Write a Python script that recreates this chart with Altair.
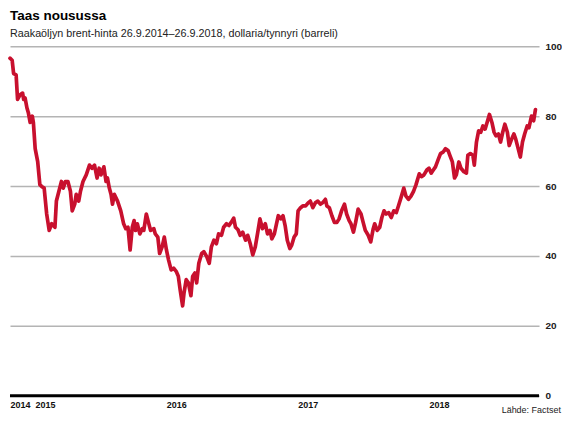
import altair as alt
import pandas as pd

# Days since 26.9.2014 and Brent price (USD/barrel)
paivat = [0, 6, 10, 17, 21, 28, 35, 38, 42, 47, 51, 56, 62, 65, 70, 77, 83, 88, 95, 102,
          109, 116, 125, 129, 136, 143, 148, 154, 161, 168, 173, 180, 184, 191, 196, 203, 212, 221, 228, 235,
          242, 248, 253, 261, 267, 271, 276, 281, 285, 290, 299, 308, 316, 322, 328, 334, 340, 345, 349, 354,
          361, 368, 372, 379, 386, 391, 400, 404, 411, 416, 423, 429, 435, 441, 448, 455, 462, 468, 473, 480,
          484, 490, 496, 503, 508, 514, 519, 525, 533, 539, 547, 554, 560, 567, 574, 580, 588, 594, 602, 609,
          615, 622, 627, 634, 640, 647, 655, 661, 668, 675, 682, 689, 695, 702, 710, 716, 723, 728, 735, 741,
          746, 753, 759, 765, 771, 778, 783, 790, 796, 801, 808, 814, 822, 829, 835, 842, 849, 856, 863, 869,
          877, 881, 888, 895, 902, 909, 915, 922, 930, 936, 943, 948, 955, 961, 968, 976, 982, 988, 996, 1003,
          1010, 1014, 1021, 1028, 1034, 1040, 1046, 1053, 1060, 1067, 1074, 1080, 1087, 1095, 1101, 1108, 1115, 1122, 1129, 1138,
          1144, 1151, 1159, 1165, 1171, 1177, 1183, 1190, 1197, 1205, 1211, 1218, 1223, 1230, 1236, 1241, 1248, 1254, 1262, 1269,
          1273, 1280, 1287, 1291, 1297, 1303, 1309, 1315, 1321, 1328, 1333, 1340, 1346, 1351, 1358, 1364, 1370, 1376, 1383, 1388,
          1395, 1401, 1406, 1413, 1419, 1425, 1431, 1438, 1443, 1450, 1456, 1461]
hinnat = [96.6, 96.0, 92.2, 91.8, 84.8, 86.1, 86.6, 84.8, 85.2, 82.4, 81.0, 78.2, 80.0, 78.2, 70.7, 67.0, 60.4, 59.9, 59.4, 52.0,
          47.3, 49.2, 48.2, 55.7, 58.5, 61.3, 59.4, 61.3, 61.3, 58.5, 52.9, 54.8, 57.6, 55.7, 58.5, 61.3, 63.2, 66.0, 65.1, 66.0,
          62.3, 65.1, 63.2, 65.5, 61.3, 62.3, 59.5, 57.6, 54.8, 57.6, 55.7, 52.9, 49.2, 47.8, 48.2, 41.7, 48.2, 50.1, 47.3, 49.2,
          46.3, 47.8, 47.3, 52.0, 49.2, 47.3, 47.8, 46.3, 45.4, 40.7, 42.6, 45.4, 41.7, 38.8, 36.0, 36.5, 35.6, 34.2, 30.4, 25.7,
          29.5, 33.2, 32.3, 28.6, 34.2, 35.1, 32.3, 37.9, 40.7, 41.2, 39.8, 37.9, 42.6, 44.5, 43.5, 46.3, 45.9, 48.2, 49.2, 48.7,
          49.6, 50.8, 48.2, 47.5, 45.9, 46.8, 44.5, 45.9, 43.5, 40.3, 42.6, 46.8, 50.6, 47.8, 49.2, 46.3, 47.3, 44.9, 46.3, 49.2,
          51.5, 50.6, 51.5, 48.7, 44.5, 42.1, 43.0, 45.4, 46.3, 52.9, 53.8, 54.3, 54.3, 55.2, 55.7, 53.8, 55.2, 55.7, 54.8, 55.2,
          56.2, 54.3, 53.8, 51.5, 49.6, 49.6, 50.6, 52.9, 54.8, 52.0, 50.1, 49.2, 46.8, 49.6, 53.4, 52.0, 49.6, 47.3, 45.9, 44.0,
          47.8, 49.2, 47.3, 48.2, 51.0, 52.9, 52.0, 52.4, 51.0, 52.9, 52.4, 54.3, 56.6, 59.4, 57.1, 56.2, 57.1, 58.5, 60.4, 63.5,
          62.7, 63.2, 64.6, 65.1, 63.7, 64.6, 65.5, 67.4, 69.3, 69.8, 70.7, 70.2, 68.8, 66.9, 62.3, 63.2, 66.9, 65.1, 64.1, 63.7,
          68.8, 69.3, 68.8, 66.0, 72.6, 75.8, 75.4, 77.2, 76.3, 78.7, 80.5, 78.2, 75.4, 74.4, 74.9, 72.6, 75.4, 77.7, 75.4, 71.6,
          73.5, 74.9, 73.5, 70.7, 68.3, 72.6, 74.9, 77.2, 76.7, 80.0, 78.7, 81.9]

vuosi_tikit = [(2014, 9, 26), (2015, 1, 1), (2016, 1, 1), (2017, 1, 1), (2018, 1, 1)]
y_tikit = [0, 20, 40, 60, 80, 100]

alku = pd.Timestamp("2014-09-26")
df = pd.DataFrame({"pvm": alku + pd.to_timedelta(paivat, unit="D"), "hinta": hinnat})

FONT = "Liberation Sans"
RED = "#c8102e"
W = 530
H = 350

x_enc = alt.X(
    "pvm:T",
    scale=alt.Scale(domain=[alt.DateTime(year=2014, month=9, date=26),
                            alt.DateTime(year=2018, month=10, date=6)]),
    axis=alt.Axis(values=[alt.DateTime(year=y, month=m, date=d) for y, m, d in vuosi_tikit],
                  format="%Y", title=None, domain=False, ticks=False, grid=False,
                  labelFont=FONT, labelFontSize=9, labelFontWeight="bold", labelColor="#111",
                  labelPadding=5, labelFlush=True, labelOverlap=False),
)
y_enc = alt.Y(
    "hinta:Q",
    scale=alt.Scale(domain=[0, 100]),
    axis=alt.Axis(orient="right", values=y_tikit, title=None, domain=False, ticks=False,
                  grid=True, gridColor="#b4b4b4", gridWidth=1.5,
                  labelFont=FONT, labelFontSize=10, labelFontWeight="bold", labelColor="#222",
                  labelPadding=6),
)

line = alt.Chart(df).mark_line(color=RED, strokeWidth=3.7, strokeJoin="round",
                               strokeCap="round").encode(x=x_enc, y=y_enc)

zero = alt.Chart(pd.DataFrame({"y": [0]})).mark_rule(color="#000", strokeWidth=3).encode(
    y=alt.Y("y:Q"))

source = alt.Chart(pd.DataFrame({"t": ["Lähde: Factset"]})).mark_text(
    align="right", baseline="alphabetic", font=FONT, fontSize=9, color="#222"
).encode(text="t:N", x=alt.value(W + 22), y=alt.value(H + 17))

chart = alt.layer(line, zero, source).properties(
    width=W,
    height=H,
    padding={"left": 0, "top": 0, "right": 0, "bottom": 0},
    title=alt.TitleParams(
        text="Taas nousussa",
        subtitle="Raakaöljyn brent-hinta 26.9.2014–26.9.2018, dollaria/tynnyri (barreli)",
        anchor="start", frame="group", font=FONT, fontSize=13.5, fontWeight="bold",
        color="#000", subtitleFont=FONT, subtitleFontSize=10.8, subtitleColor="#222",
        subtitlePadding=5, offset=3,
    ),
).configure_view(stroke=None)

chart.save("out.html", embed_options={"renderer": "svg", "actions": False})
